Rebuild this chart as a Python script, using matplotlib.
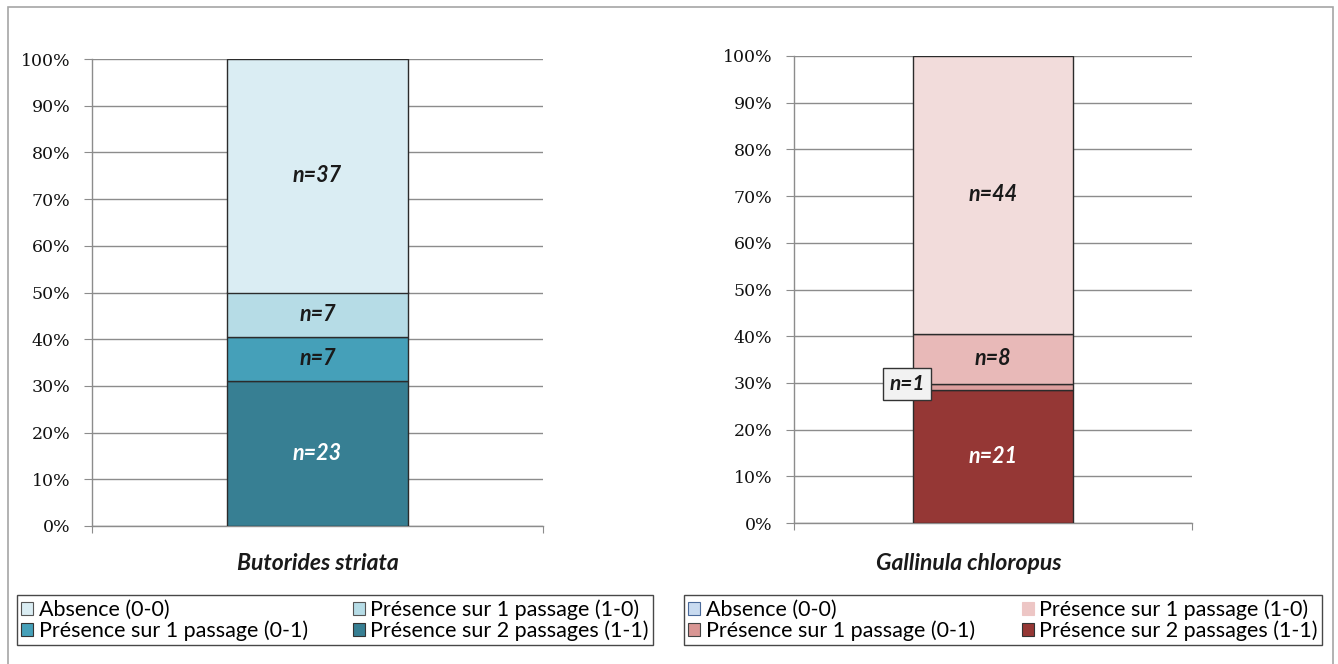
import numpy as np
import matplotlib.pyplot as plt
from matplotlib.patches import Rectangle, Patch
from matplotlib.ticker import PercentFormatter

plt.rcParams['font.family'] = ['Lato', 'DejaVu Sans']

# Catégories, dans l'ordre d'empilement (du bas vers le haut)
categories = ["Présence sur 2 passages (1-1)", "Présence sur 1 passage (0-1)",
              "Présence sur 1 passage (1-0)", "Absence (0-0)"]

species = ["Butorides striata", "Gallinula chloropus"]
counts_butorides = [23, 7, 7, 37]
counts_gallinula = [21, 1, 8, 44]

colors_butorides = ["#377f93", "#45a0b9", "#b6dce6", "#daedf3"]
colors_gallinula = ["#953735", "#dd9f9e", "#e8b9b8", "#f2dcdb"]
label_colors = ["white", "#1a1a1a", "#1a1a1a", "#1a1a1a"]

# couleurs des carrés de légende (ordre : Absence, 0-1, 1-0, 1-1)
legend_butorides = ["#daedf3", "#45a0b9", "#b6dce6", "#377f93"]
legend_gallinula = ["#c9dbf0", "#d99694", "#edc6c5", "#953735"]
legend_edges_butorides = ["#555555", "#333333", "#555555", "#333333"]
legend_edges_gallinula = ["#4a6a9a", "#444444", "#edc6c5", "#333333"]

fig = plt.figure(figsize=(13.38, 6.64), dpi=100)

# cadre gris autour des graphiques
fig.add_artist(Rectangle((8 / 1338, -0.01), 1325 / 1338, 1 - 7 / 664 + 0.01,
                         transform=fig.transFigure, fill=False,
                         edgecolor="#a6a6a6", linewidth=1.2))

ax_pos = [[92 / 1338, 1 - 526 / 664, 451 / 1338, 467 / 664],
          [794 / 1338, 1 - 523 / 664, 398 / 1338, 467 / 664]]
title_x = [318 / 1338, 969 / 1338]
legend_box = [(17 / 1338, 19 / 664, 636 / 1338, 56 / 664),
              (684 / 1338, 19 / 664, 638 / 1338, 56 / 664)]

data = [(counts_butorides, colors_butorides, legend_butorides, legend_edges_butorides),
        (counts_gallinula, colors_gallinula, legend_gallinula, legend_edges_gallinula)]

for i, (counts, colors, leg_colors, leg_edges) in enumerate(data):
    ax = fig.add_axes(ax_pos[i])
    vals = np.array(counts, dtype=float)
    pct = vals / vals.sum() * 100
    bottoms = np.concatenate([[0], np.cumsum(pct)[:-1]])

    for k in range(len(vals)):
        ax.bar(0, pct[k], bottom=bottoms[k], width=0.4, color=colors[k],
               edgecolor="#2b2b2b", linewidth=1.0, zorder=3)
        label = f"n={counts[k]}"
        mid = bottoms[k] + pct[k] / 2
        if pct[k] < 3:
            # segment trop fin : étiquette encadrée à gauche de la barre
            ax.text(-0.215, mid + 0.7, label, ha="center", va="center", fontsize=15,
                    fontweight="bold", fontstyle="italic", color="#1a1a1a", zorder=5,
                    bbox=dict(boxstyle="square,pad=0.3", facecolor="#f2f2f2",
                              edgecolor="#333333", linewidth=1.0))
        else:
            ax.text(0, mid, label, ha="center", va="center", fontsize=15.5,
                    fontweight="bold", fontstyle="italic", color=label_colors[k],
                    zorder=5)

    ax.set_xlim(-0.5, 0.5)
    ax.set_ylim(0, 100)
    ax.set_yticks(np.arange(0, 101, 10))
    ax.yaxis.set_major_formatter(PercentFormatter(decimals=0))
    ax.grid(axis="y", color="#8c8c8c", linewidth=1.0, zorder=0)
    ax.set_xticks([-0.5, 0.5])
    ax.set_xticklabels([])
    ax.tick_params(axis="x", direction="out", length=5, color="#8c8c8c")
    ax.tick_params(axis="y", direction="out", length=5.5, color="#8c8c8c",
                   labelsize=12.5, labelcolor="#111111", pad=10)
    for lab in ax.get_yticklabels():
        lab.set_fontfamily("DejaVu Serif")
    for side in ["top", "right"]:
        ax.spines[side].set_visible(False)
    for side in ["left", "bottom"]:
        ax.spines[side].set_color("#8c8c8c")
        ax.spines[side].set_linewidth(1.0)

    fig.text(title_x[i], 1 - 563 / 664, species[i], ha="center", va="center",
             fontsize=16.5, fontweight="bold", fontstyle="italic", color="#1a1a1a")

    order = [3, 1, 2, 0]
    handles = [Patch(facecolor=leg_colors[j], edgecolor=leg_edges[j], linewidth=0.8)
               for j in range(4)]
    labels = [categories[k] for k in order]
    leg = fig.legend(handles, labels, ncol=2, loc="lower left",
                     bbox_to_anchor=legend_box[i], mode="expand",
                     bbox_transform=fig.transFigure, fontsize=15.5,
                     frameon=True, fancybox=False, edgecolor="#1a1a1a",
                     handlelength=0.55, handleheight=0.55, handletextpad=0.25,
                     borderpad=0.2, labelspacing=0.02, columnspacing=1.0,
                     borderaxespad=0)
    leg.get_frame().set_linewidth(1.0)

fig.savefig("out.png", dpi=100)
